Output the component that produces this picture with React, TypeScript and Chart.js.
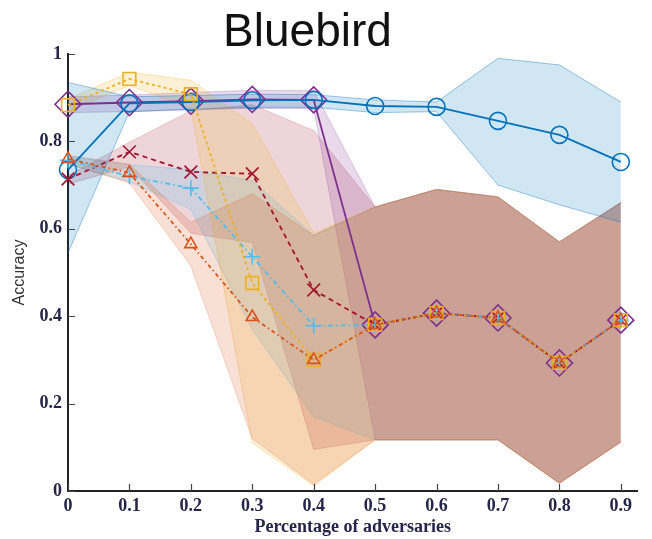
import React, { useEffect, useRef } from "react";
import { Chart, registerables } from "chart.js";

Chart.register(...registerables);

// Fraction of adversarial workers (x positions of every series)
const adversaryFractions = [0, 0.1, 0.2, 0.3, 0.4, 0.5, 0.6, 0.7, 0.8, 0.9];
const xTickValues = [0, 0.1, 0.2, 0.3, 0.4, 0.5, 0.6, 0.7, 0.8, 0.9];
const xTickLabels = ["0", "0.1", "0.2", "0.3", "0.4", "0.5", "0.6", "0.7", "0.8", "0.9"];
const yTickValues = [0, 0.2, 0.4, 0.6, 0.8, 1];
const yTickLabels = ["0", "0.2", "0.4", "0.6", "0.8", "1"];

// Mean accuracy per method
const circleMean = [0.735, 0.887, 0.89, 0.894, 0.895, 0.881, 0.879, 0.847, 0.815, 0.753];
const triangleMean = [0.76, 0.728, 0.565, 0.398, 0.3, 0.38, 0.407, 0.396, 0.293, 0.391];
const squareMean = [0.883, 0.943, 0.908, 0.476, 0.3, 0.38, 0.407, 0.396, 0.293, 0.391];
const diamondMean = [0.885, 0.889, 0.892, 0.896, 0.895, 0.38, 0.407, 0.396, 0.293, 0.391];
const plusMean = [0.757, 0.72, 0.693, 0.536, 0.378, 0.38, 0.407, 0.396, 0.293, 0.391];
const crossMean = [0.714, 0.776, 0.73, 0.726, 0.46, 0.38, 0.407, 0.396, 0.293, 0.391];

// Upper / lower edges of the spread around each mean
const circleUpper = [0.935, 0.902, 0.905, 0.908, 0.907, 0.895, 0.89, 0.99, 0.975, 0.89];
const circleLower = [0.545, 0.868, 0.874, 0.878, 0.878, 0.866, 0.868, 0.7, 0.655, 0.615];
const triangleUpper = [0.768, 0.748, 0.615, 0.68, 0.585, 0.65, 0.69, 0.673, 0.57, 0.66];
const triangleLower = [0.748, 0.705, 0.515, 0.12, 0.015, 0.117, 0.117, 0.117, 0.018, 0.112];
const squareUpper = [0.897, 0.958, 0.94, 0.84, 0.59, 0.65, 0.69, 0.673, 0.57, 0.66];
const squareLower = [0.869, 0.928, 0.876, 0.11, 0.012, 0.117, 0.117, 0.117, 0.018, 0.112];
const diamondUpper = [0.902, 0.906, 0.912, 0.917, 0.916, 0.65, 0.69, 0.673, 0.57, 0.66];
const diamondLower = [0.866, 0.868, 0.872, 0.876, 0.875, 0.117, 0.117, 0.117, 0.018, 0.112];
const plusUpper = [0.766, 0.746, 0.735, 0.71, 0.585, 0.65, 0.69, 0.673, 0.57, 0.66];
const plusLower = [0.748, 0.708, 0.645, 0.37, 0.17, 0.117, 0.117, 0.117, 0.018, 0.112];
const crossUpper = [0.722, 0.798, 0.87, 0.884, 0.825, 0.65, 0.69, 0.673, 0.57, 0.66];
const crossLower = [0.702, 0.742, 0.59, 0.568, 0.095, 0.117, 0.117, 0.117, 0.018, 0.112];

const BLUE = "#0072BD";
const ORANGE = "#D95319";
const YELLOW = "#EDB120";
const PURPLE = "#7E2F8E";
const CYAN = "#4DBEEE";
const RED = "#A2142F";

function rgba(hex: string, a: number): string {
  const n = parseInt(hex.slice(1), 16);
  return `rgba(${(n >> 16) & 255},${(n >> 8) & 255},${n & 255},${a})`;
}

function points(values: number[]) {
  return values.map((y, i) => ({ x: adversaryFractions[i], y }));
}

function band(upper: number[], lower: number[], color: string, edgeAlpha: number) {
  return [
    {
      label: "lower",
      data: points(lower),
      borderColor: rgba(color, edgeAlpha),
      borderWidth: 1,
      pointRadius: 0,
      fill: false,
      order: 20,
    },
    {
      label: "upper",
      data: points(upper),
      borderColor: rgba(color, edgeAlpha),
      borderWidth: 1,
      backgroundColor: rgba(color, 0.18),
      pointRadius: 0,
      fill: "-1",
      order: 20,
    },
  ];
}

function series(
  values: number[],
  color: string,
  pointStyle: string,
  radius: number,
  dash: number[],
  order: number
) {
  return {
    label: "mean",
    data: points(values),
    borderColor: color,
    borderWidth: 1.8,
    borderDash: dash,
    pointStyle,
    pointRadius: radius,
    pointBorderColor: color,
    pointBackgroundColor: "rgba(0,0,0,0)",
    pointBorderWidth: 1.6,
    fill: false,
    clip: false,
    order,
  };
}

const TICK_FONT = { family: '"Liberation Serif", "Times New Roman", serif', size: 18, weight: "bold" as const };
const TICK_COLOR = "#25254a";

const figureTitle = {
  id: "figureTitle",
  afterDraw(chart: any) {
    const { ctx } = chart;
    ctx.save();
    ctx.font = '46px "Liberation Sans", Arial, sans-serif';
    ctx.fillStyle = "#111";
    ctx.textAlign = "center";
    ctx.textBaseline = "alphabetic";
    ctx.fillText("Bluebird", 307.5, 46);
    ctx.restore();
  },
};

const innerTicks = {
  id: "innerTicks",
  afterDatasetsDraw(chart: any) {
    const { ctx, chartArea, scales } = chart;
    ctx.save();
    ctx.strokeStyle = "#444";
    ctx.lineWidth = 1.2;
    ctx.beginPath();
    scales.x.ticks.forEach((t: any) => {
      const px = Math.round(scales.x.getPixelForValue(t.value)) + 0.5;
      ctx.moveTo(px, chartArea.bottom);
      ctx.lineTo(px, chartArea.bottom - 7);
    });
    scales.y.ticks.forEach((t: any) => {
      const py = Math.round(scales.y.getPixelForValue(t.value)) + 0.5;
      ctx.moveTo(chartArea.left, py);
      ctx.lineTo(chartArea.left + 7, py);
    });
    ctx.stroke();
    ctx.restore();
  },
};

export default function App() {
  const canvasRef = useRef<HTMLCanvasElement | null>(null);

  useEffect(() => {
    if (!canvasRef.current) return;
    const datasets: any[] = [
      ...band(circleUpper, circleLower, BLUE, 0.4),
      ...band(triangleUpper, triangleLower, ORANGE, 0.22),
      ...band(squareUpper, squareLower, YELLOW, 0.3),
      ...band(diamondUpper, diamondLower, PURPLE, 0.22),
      ...band(plusUpper, plusLower, CYAN, 0.35),
      ...band(crossUpper, crossLower, RED, 0.18),
      // lower order is drawn on top
      series(diamondMean, PURPLE, "rectRot", 13, [], 6),
      series(circleMean, BLUE, "circle", 8.5, [], 5),
      series(crossMean, RED, "crossRot", 9, [5, 4], 4),
      series(plusMean, CYAN, "cross", 8, [5, 3, 1.5, 3], 3),
      series(squareMean, YELLOW, "rect", 9, [3, 3], 2),
      series(triangleMean, ORANGE, "triangle", 7, [4, 3, 1.5, 3], 1),
    ];

    const chart = new Chart(canvasRef.current, {
      type: "line",
      data: { datasets },
      plugins: [figureTitle, innerTicks],
      options: {
        animation: false,
        responsive: false,
        layout: { padding: { top: 54, right: 2, left: 0, bottom: 0 } },
        elements: { line: { tension: 0 } },
        plugins: {
          legend: { display: false },
          tooltip: { enabled: false },
          title: { display: false },
        },
        scales: {
          x: {
            type: "linear",
            min: 0,
            max: 0.927,
            afterBuildTicks: (scale: any) => {
              scale.ticks = xTickValues.map((v) => ({ value: v }));
            },
            afterFit: (scale: any) => {
              scale.height = 48;
            },
            grid: { display: false, drawTicks: false },
            border: { display: true, color: "#222", width: 2 },
            ticks: {
              padding: 5,
              maxRotation: 0,
              autoSkip: false,
              font: TICK_FONT,
              color: TICK_COLOR,
              callback: (_v: any, i: number) => xTickLabels[i],
            },
            title: {
              display: true,
              text: "Percentage of adversaries",
              font: { family: '"Liberation Serif", "Times New Roman", serif', size: 18, weight: "bold", lineHeight: 1 },
              color: TICK_COLOR,
              padding: { top: 0, bottom: 3 },
            },
          },
          y: {
            type: "linear",
            min: 0,
            max: 1,
            afterBuildTicks: (scale: any) => {
              scale.ticks = yTickValues.map((v) => ({ value: v }));
            },
            afterFit: (scale: any) => {
              scale.width = 68;
            },
            grid: { display: false, drawTicks: false },
            border: { display: true, color: "#222", width: 2 },
            ticks: {
              padding: 6,
              autoSkip: false,
              font: TICK_FONT,
              color: TICK_COLOR,
              callback: (_v: any, i: number) => yTickLabels[i],
            },
            title: {
              display: true,
              text: "Accuracy",
              font: { family: '"Liberation Sans", Arial, sans-serif', size: 16, lineHeight: 1 },
              color: "#333",
              padding: { top: 12, bottom: 0 },
            },
          },
        },
      },
    });
    return () => chart.destroy();
  }, []);

  return (
    <div style={{ position: "absolute", left: 0, top: 0, width: 652, height: 539, background: "#fff" }}>
      <canvas ref={canvasRef} width={652} height={539} />
    </div>
  );
}
